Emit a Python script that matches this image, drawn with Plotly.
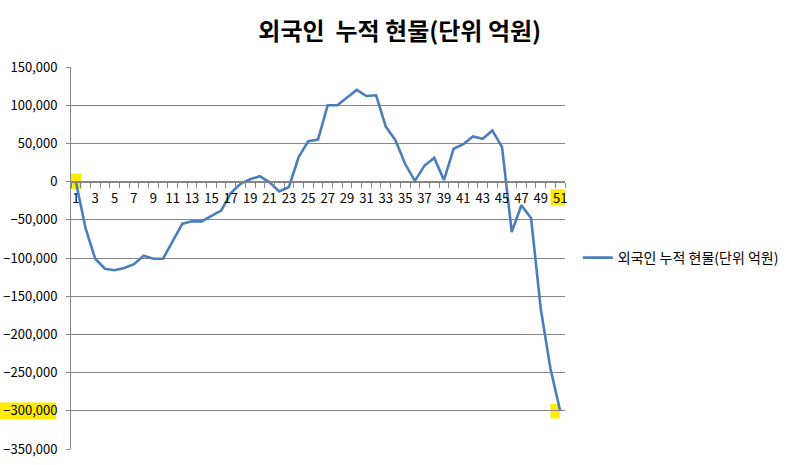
import plotly.graph_objects as go

# cumulative foreign spot net buying (unit: 100 million won)
days = [1, 2, 3, 4, 5, 6, 7, 8, 9, 10, 11, 12, 13, 14, 15, 16, 17, 18, 19, 20,
        21, 22, 23, 24, 25, 26, 27, 28, 29, 30, 31, 32, 33, 34, 35, 36, 37, 38, 39, 40,
        41, 42, 43, 44, 45, 46, 47, 48, 49, 50, 51]
cumulative = [0, -61000, -101000, -114000, -116000, -113000, -108000, -97000, -101000, -101000,
              -78000, -55000, -52000, -52000, -45000, -38000, -15000, -3000, 3000, 7000,
              -1000, -13000, -7000, 32000, 53000, 55000, 100000, 100000, 110000, 120000,
              112000, 113000, 72000, 54000, 23000, 1000, 21000, 31000, 2000, 43000,
              49000, 59000, 56000, 67000, 45000, -66000, -31000, -48000, -167000, -245000,
              -300000]
y_ticks = [150000, 100000, 50000, 0, -50000, -100000, -150000, -200000, -250000, -300000, -350000]
series_name = '외국인 누적 현물(단위 억원)'
title_text = '외국인&nbsp; 누적 현물(단위 억원)'

font = 'Noto Sans CJK KR'
grid = '#868686'
hl = '#FFEB00'

y_min, y_max = min(y_ticks), max(y_ticks)
zero_pos = (0 - y_min) / (y_max - y_min)

fig = go.Figure()
fig.add_trace(go.Scatter(x=days, y=cumulative, mode='lines', name=series_name,
                         line=dict(color='#4A7EBB', width=2.6)))

shapes = [
    # highlight on first point
    dict(type='rect', xref='x', yref='y', layer='below', fillcolor=hl, line_width=0,
         x0=days[0] - 0.8, x1=days[0] + 0.6, y0=cumulative[0] - 10000, y1=cumulative[0] + 10500),
    # highlight on last point
    dict(type='rect', xref='x', yref='y', layer='below', fillcolor=hl, line_width=0,
         x0=days[-1] - 1.0, x1=days[-1] - 0.05, y0=cumulative[-1] - 10000, y1=cumulative[-1] + 9000),
    # highlight on "51" label
    dict(type='rect', xref='x', yref='y', layer='below', fillcolor=hl, line_width=0,
         x0=days[-1] - 1.0, x1=days[-1] + 0.67, y0=-31000, y1=-10000),
    # highlight on "-300,000" label
    dict(type='rect', xref='paper', yref='y', layer='below', fillcolor=hl, line_width=0,
         x0=-0.1437, x1=-0.03, y0=-300000 - 11000, y1=-300000 + 11000),
]

fig.update_layout(
    width=790, height=465,
    margin=dict(l=71, r=225, t=67, b=16, autoexpand=False),
    paper_bgcolor='white', plot_bgcolor='white',
    font=dict(family=font, size=13, color='black'),
    title=dict(text='<b>' + title_text + '</b>', x=0.506, xref='container', xanchor='center',
               y=0.933, yanchor='middle', font=dict(family=font, size=24, color='black')),
    showlegend=True,
    legend=dict(x=1.026, y=0.5, xanchor='left', yanchor='middle', font=dict(size=14),
                bgcolor='rgba(0,0,0,0)', itemwidth=30),
    shapes=shapes,
)
fig.update_xaxes(
    range=[0.5, 51.5], tickvals=days[::2], ticktext=[str(d) for d in days[::2]],
    ticks='', showgrid=False, zeroline=False, automargin=False,
    showline=True, linecolor=grid, linewidth=1,
    anchor='free', position=zero_pos,
    tickfont=dict(size=13), ticklabelstandoff=5,
    minor=dict(tickvals=[d + 0.5 for d in [0] + days], ticks='outside', ticklen=5,
               tickcolor=grid, showgrid=False),
)
fig.update_yaxes(
    range=[y_min, y_max], tickvals=y_ticks, tickformat=',',
    showgrid=True, gridcolor=grid, gridwidth=1, zeroline=False, automargin=False,
    showline=True, linecolor=grid, ticks='outside', ticklen=4, tickcolor=grid,
    tickfont=dict(size=13), ticklabelstandoff=6,
)

# drop the default page margin so the figure sits at the window's corner
fig.write_html('out.html', config={'displayModeBar': False},
               post_script="document.body.style.margin = '0';")
